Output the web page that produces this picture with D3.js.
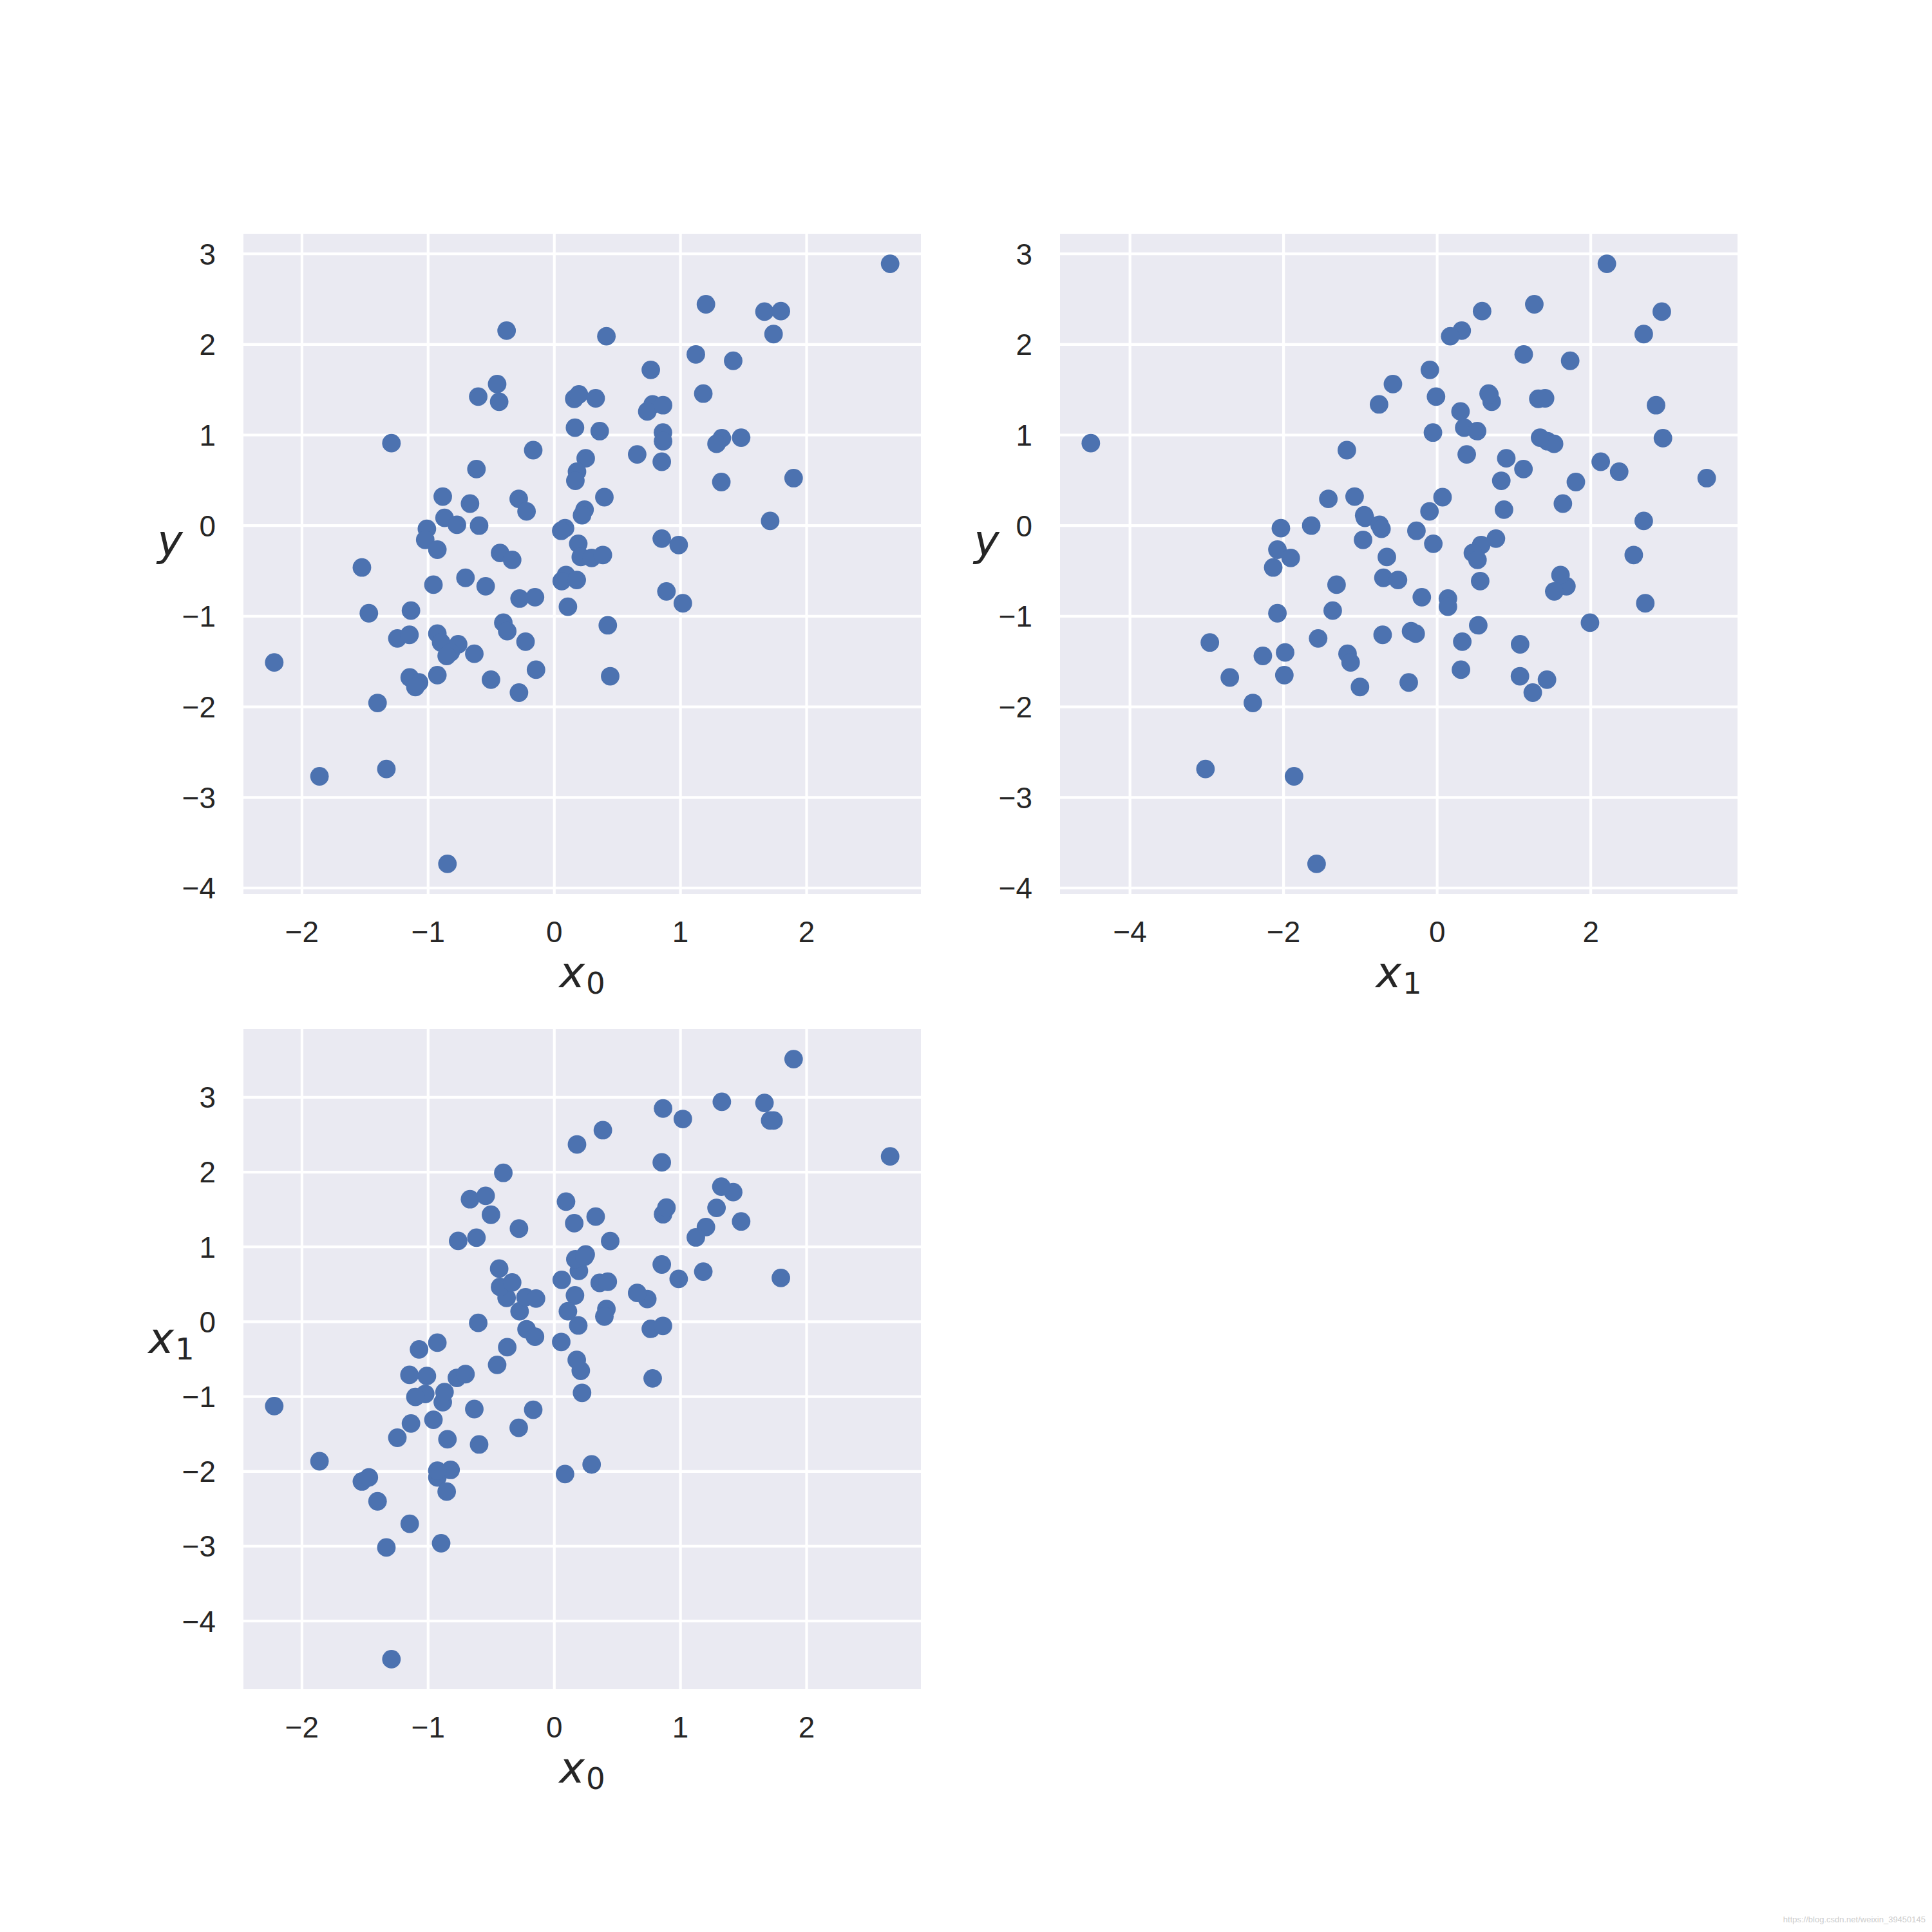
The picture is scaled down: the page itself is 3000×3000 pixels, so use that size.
<!DOCTYPE html>
<html><head><meta charset="utf-8">
<script src="https://cdn.jsdelivr.net/npm/d3@7"></script>
<style>html,body{margin:0;padding:0;background:#fff}</style>
</head><body>
<svg id="chart" width="3000" height="3000" xmlns="http://www.w3.org/2000/svg"></svg>
<script>
// ---- data: each sample has x0, x1, y ----
const x0 = [2.662,1.202,1.666,1.796,-0.378,0.413,1.738,1.122,1.418,0.765,
  -0.453,-0.603,-0.437,0.158,0.195,0.328,1.181,0.780,0.737,0.862,
  0.164,0.360,0.861,0.862,1.328,1.286,1.481,-1.291,-0.167,0.657,
  0.249,0.852,-0.617,0.180,0.167,1.897,1.324,-0.884,-0.282,0.397,
  -0.668,-0.220,0.240,0.220,-0.870,-0.772,-0.596,-1.010,0.085,0.055,
  1.711,-1.023,-0.927,0.190,0.852,0.986,-0.430,-0.334,0.210,0.296,
  0.385,-1.525,-0.958,-0.704,-0.544,0.093,0.059,0.178,0.889,-0.275,
  -0.153,0.108,1.019,-1.470,-1.136,-0.404,-0.373,0.424,-0.927,-0.897,
  -1.244,-1.148,-0.762,-0.822,-0.853,-0.634,-0.228,-2.220,-0.145,-1.146,
  -1.072,-1.101,-0.927,-0.502,0.443,-0.280,-1.401,-1.861,-1.331,-0.847];
const x1 = [2.21,1.265,2.925,0.585,0.32,0.17,2.69,1.127,1.732,-0.095,
  -0.576,-0.015,0.71,1.317,0.68,1.405,0.67,-0.757,0.304,2.85,
  0.352,0.52,-0.055,1.437,2.94,1.522,1.34,-4.51,-1.176,0.385,
  0.90,2.13,1.124,2.37,0.835,3.51,1.806,-1.075,-1.417,0.07,
  1.637,-0.10,0.87,-0.95,-0.94,-0.75,-1.64,-0.725,-2.035,-0.27,
  2.69,-0.965,-2.08,-0.05,0.765,0.573,0.465,0.525,-0.655,-1.907,
  2.56,-2.135,-1.31,-0.70,1.683,1.606,0.56,-0.51,1.525,0.14,
  -0.20,0.14,2.71,-2.08,-1.36,1.99,-0.34,0.535,-0.28,-2.96,
  -1.55,-0.71,1.08,-1.98,-2.27,-1.167,0.327,-1.127,0.31,-2.70,
  -0.37,-1.005,-1.99,1.43,1.078,1.245,-2.40,-1.864,-3.017,-1.57];
const y = [2.890,2.443,2.362,2.367,2.152,2.090,2.114,1.890,1.819,1.719,
  1.562,1.424,1.367,1.400,1.448,1.405,1.457,1.338,1.260,1.329,
  1.081,1.043,1.027,0.931,0.965,0.903,0.971,0.910,0.833,0.786,
  0.743,0.705,0.624,0.595,0.495,0.524,0.481,0.321,0.295,0.314,
  0.243,0.157,0.176,0.114,0.086,0.009,0.000,-0.035,-0.028,-0.057,
  0.052,-0.157,-0.265,-0.200,-0.143,-0.214,-0.302,-0.378,-0.346,-0.357,
  -0.324,-0.462,-0.652,-0.576,-0.669,-0.545,-0.612,-0.600,-0.726,-0.805,
  -0.790,-0.895,-0.857,-0.967,-0.938,-1.071,-1.165,-1.100,-1.192,-1.290,
  -1.245,-1.205,-1.310,-1.400,-1.438,-1.414,-1.281,-1.510,-1.590,-1.676,
  -1.731,-1.781,-1.650,-1.700,-1.662,-1.843,-1.957,-2.767,-2.686,-3.733];

const ticksX0 = [-2,-1,0,1,2];
const ticksX1 = [-4,-2,0,2];
const ticksVert = [-4,-3,-2,-1,0,1,2,3];

const panels = [
  {left:378, top:363, xs:x0, ys:y,  xt:ticksX0, yt:ticksVert, xl:["x","0"], yl:["y",null]},
  {left:1646,top:363, xs:x1, ys:y,  xt:ticksX1, yt:ticksVert, xl:["x","1"], yl:["y",null]},
  {left:378, top:1598,xs:x0, ys:x1, xt:ticksX0, yt:ticksVert, xl:["x","0"], yl:["x","1"]}
];
const W = 1052, H = 1025;

const svg = d3.select("#chart");
svg.append("rect").attr("width",3000).attr("height",3000).attr("fill","#ffffff");

function padded(arr){
  const [a,b] = d3.extent(arr);
  const m = (b-a)*0.05;
  return [a-m, b+m];
}
const fmt = t => String(t).replace("-", "\u2212");

panels.forEach(p => {
  const sx = d3.scaleLinear().domain(padded(p.xs)).range([p.left, p.left+W]);
  const sy = d3.scaleLinear().domain(padded(p.ys)).range([p.top+H, p.top]);
  const g = svg.append("g");
  g.append("rect").attr("x",p.left).attr("y",p.top).attr("width",W).attr("height",H).attr("fill","#EAEAF2");
  // grid
  g.selectAll(".gx").data(p.xt).enter().append("line")
    .attr("x1",d=>sx(d)).attr("x2",d=>sx(d)).attr("y1",p.top).attr("y2",p.top+H)
    .attr("stroke","#ffffff").attr("stroke-width",4.2);
  g.selectAll(".gy").data(p.yt).enter().append("line")
    .attr("y1",d=>sy(d)).attr("y2",d=>sy(d)).attr("x1",p.left).attr("x2",p.left+W)
    .attr("stroke","#ffffff").attr("stroke-width",4.2);
  // points
  g.selectAll("circle").data(d3.range(p.xs.length)).enter().append("circle")
    .attr("cx",i=>sx(p.xs[i])).attr("cy",i=>sy(p.ys[i])).attr("r",14.4)
    .attr("fill","#4C72B0");
  // tick labels
  g.selectAll(".tx").data(p.xt).enter().append("text")
    .attr("x",d=>sx(d)).attr("y",p.top+H+75)
    .attr("text-anchor","middle").attr("font-family","Liberation Sans, Arial, sans-serif")
    .attr("font-size",45.8).attr("fill","#262626").text(fmt);
  g.selectAll(".ty").data(p.yt).enter().append("text")
    .attr("x",p.left-43).attr("y",d=>sy(d)+16.4)
    .attr("text-anchor","end").attr("font-family","Liberation Sans, Arial, sans-serif")
    .attr("font-size",45.8).attr("fill","#262626").text(fmt);
  // axis labels (mathtext-like)
  function mathLabel(x, yb, parts){
    const t = g.append("text").attr("x",x).attr("y",yb).attr("text-anchor","middle")
      .attr("fill","#262626").attr("font-family","DejaVu Sans, sans-serif");
    t.append("tspan").attr("font-style","italic").attr("font-size",66.7).text(parts[0]);
    if (parts[1] !== null) {
      t.append("tspan").attr("font-size",46.7).attr("dy",10).attr("dx",2).text(parts[1]);
    }
  }
  mathLabel(p.left+W/2, p.top+H+145, p.xl);
  const mid = p.top+H/2;
  if (p.yl[1] === null) mathLabel(p.left-114, mid-14, p.yl);
  else mathLabel(p.left-112, mid-10, p.yl);
});

svg.append("text").attr("x",2990).attr("y",2985).attr("text-anchor","end")
  .attr("font-family","Liberation Sans, Arial, sans-serif").attr("font-size",13)
  .attr("fill","#cccccc").text("https://blog.csdn.net/weixin_39450145");
</script>
</body></html>
